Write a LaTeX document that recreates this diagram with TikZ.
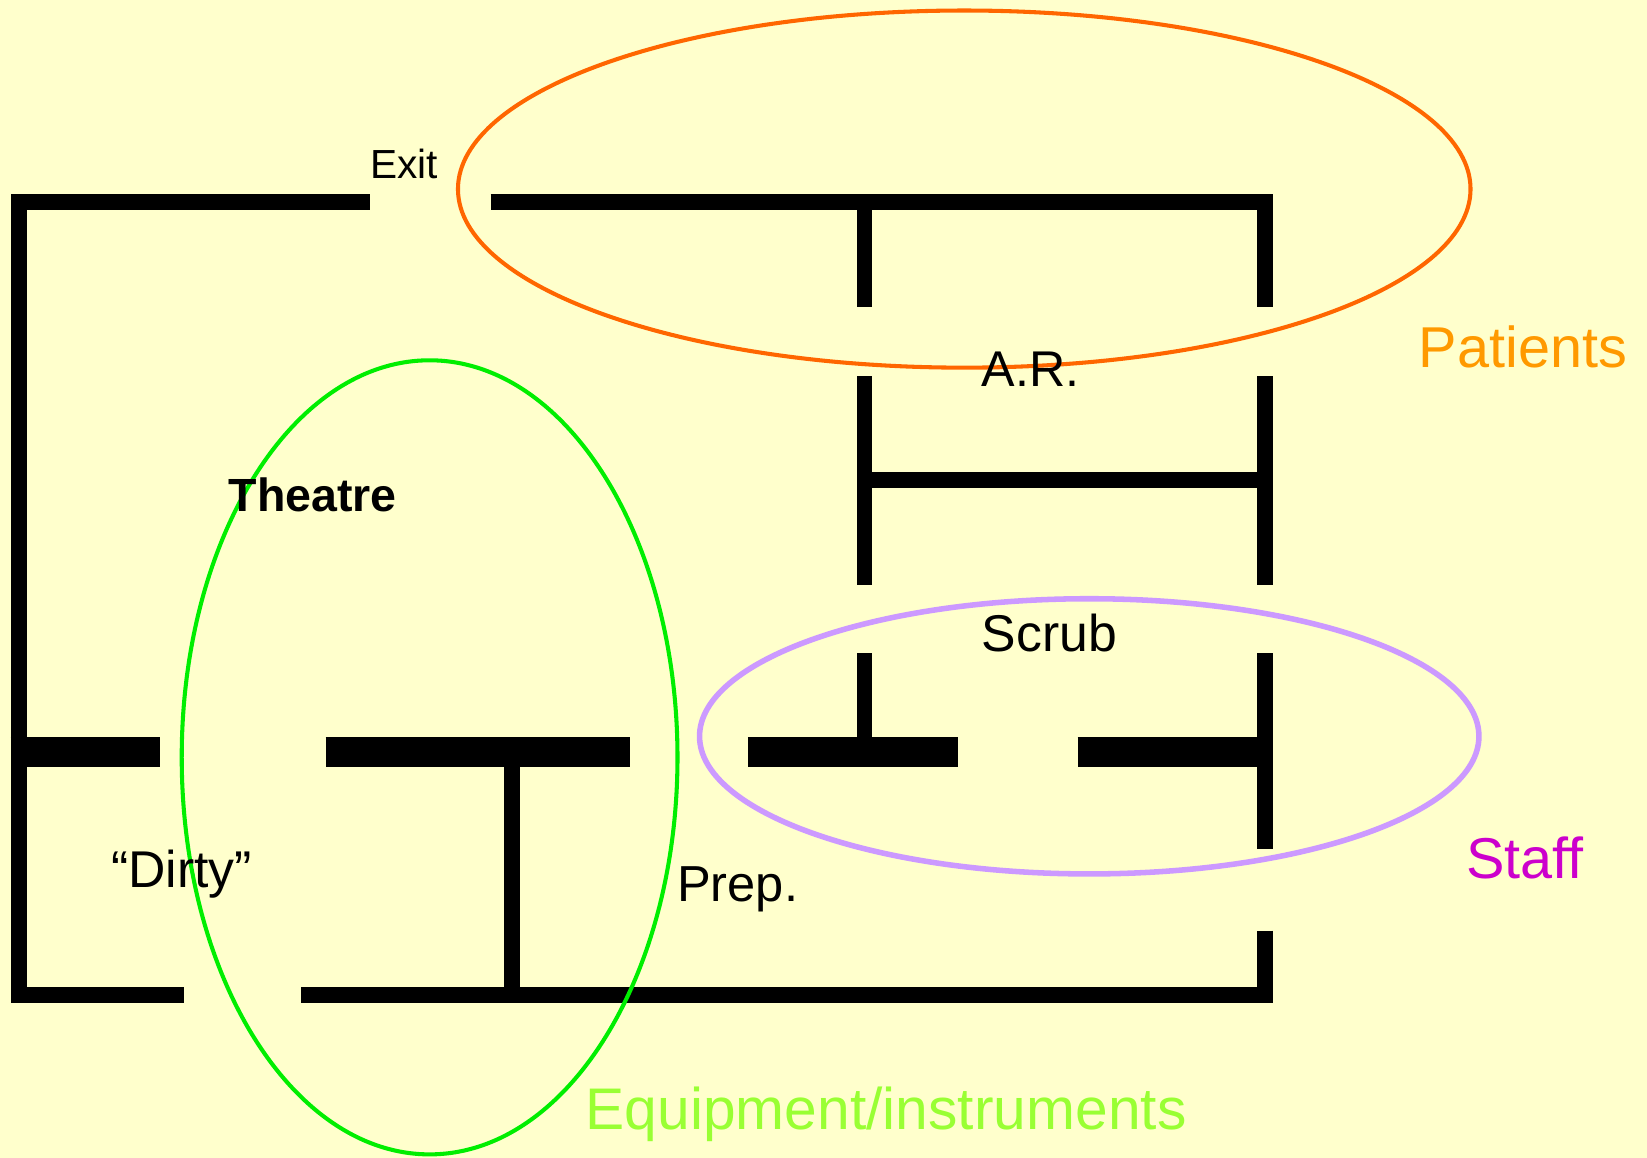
\documentclass[tikz,border=0pt]{standalone}
\usepackage{fontspec}
\setmainfont{Liberation Sans}
\definecolor{paper}{HTML}{FFFFCC}
\definecolor{patientline}{HTML}{FF6600}
\definecolor{patienttext}{HTML}{FF9900}
\definecolor{equipline}{HTML}{00EE00}
\definecolor{equiptext}{HTML}{99FF33}
\definecolor{staffline}{HTML}{CC99FF}
\definecolor{stafftext}{HTML}{CC00CC}
\begin{document}
\begin{tikzpicture}[x=0.01cm,y=-0.01cm]
	\tikzset{wall/.style = {line width=0.15cm, line cap=butt, line join=miter}}
	\tikzset{heavywall/.style = {line width=0.28cm, line cap=butt}}
	\tikzset{room/.style = {inner sep=0pt, anchor=base west}}
	\tikzset{zone/.style = {line width=1.1pt}}
	% Background
	\useasboundingbox (0,0) rectangle (1568,1102);
	\fill[paper] (-10,-10) rectangle (1578,1112);
	% Draw the walls
	\draw[wall] (352,192.5) -- (18,192.5) -- (18,947.5) -- (175,947.5);
	\draw[wall] (467,192.5) -- (1204,192.5) -- (1204,292);
	\draw[wall] (1204,358) -- (1204,557);
	\draw[wall] (1204,622) -- (1204,808);
	\draw[wall] (1204,886) -- (1204,947.5) -- (287,947.5);
	\draw[wall] (823,192.5) -- (823,292);
	\draw[wall] (823,358) -- (823,557);
	\draw[wall] (823,622) -- (823,716);
	\draw[wall] (823,457) -- (1204,457);
	\draw[wall] (487.5,716) -- (487.5,947.5);
	\draw[heavywall] (10,716) -- (152,716);
	\draw[heavywall] (310,716) -- (600,716);
	\draw[heavywall] (712,716) -- (912,716);
	\draw[heavywall] (1026,716) -- (1204,716);
	% Flow zones
	\draw[zone, patientline] (918,180) ellipse (482 and 170);
	\draw[zone, equipline] (409,721) ellipse (236 and 378);
	\draw[zone, staffline, line width=1.5pt] (1037,701) ellipse (371 and 131);
	% Labels
	\node[room, font=\fontsize{11}{11}\selectfont] (exit) at (352,170) {Exit};
	\node[room, font=\fontsize{13.6}{13.6}\selectfont] (ar) at (934,368) {A.R.};
	\node[room, font=\fontsize{12.6}{12.6}\selectfont\bfseries] (theatre) at (217,487) {Theatre};
	\node[room, font=\fontsize{14}{14}\selectfont] (scrub) at (934,620) {Scrub};
	\node[room, font=\fontsize{14}{14}\selectfont] (dirty) at (105,845) {“Dirty”};
	\node[room, font=\fontsize{13.7}{13.7}\selectfont] (prep) at (644,858) {Prep.};
	\node[room, font=\fontsize{15.6}{15.6}\selectfont, patienttext] (patients) at (1350,350) {Patients};
	\node[room, font=\fontsize{15.6}{15.6}\selectfont, stafftext] (staff) at (1395,836) {Staff};
	\node[room, font=\fontsize{15.9}{15.9}\selectfont, equiptext] (equip) at (557,1075) {Equipment/instruments};
\end{tikzpicture}
\end{document}
